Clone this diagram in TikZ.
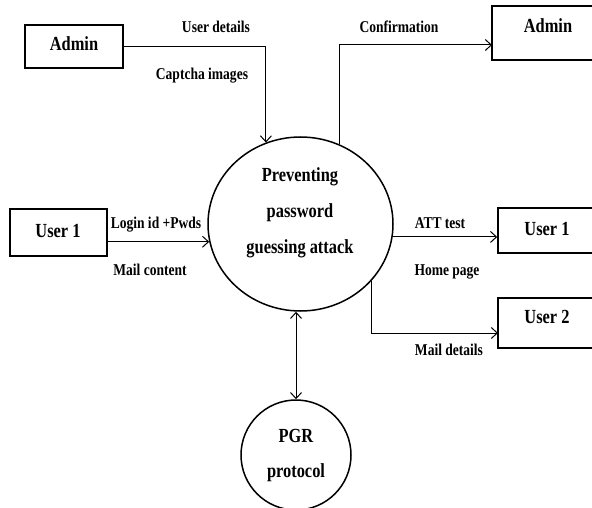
\documentclass[tikz,border=0pt]{standalone}
\usepackage{fontspec}
\setmainfont{Liberation Serif}[FakeStretch=0.82]
\usetikzlibrary{arrows.meta,shapes.geometric}
\begin{document}
\begin{tikzpicture}[x=1pt,y=-1pt,
  boxe/.style={draw,line width=1.6pt,rectangle,inner sep=0pt},
  bigt/.style={font=\fontsize{20}{24}\selectfont\bfseries,anchor=base,inner sep=0pt},
  lab/.style={font=\fontsize{16.5}{20}\selectfont\bfseries,anchor=base,inner sep=0pt},
  flow/.style={line width=1pt,-{Straight Barb[length=6pt,width=11pt]}},
  flow2/.style={line width=1pt,{Straight Barb[length=6pt,width=11pt]}-{Straight Barb[length=6pt,width=11pt]}}]
\useasboundingbox (0,0) rectangle (592,508);
\clip (0,0) rectangle (592,508);
% boxes
\node[boxe,minimum width=98pt,minimum height=43pt] (adminL) at (74,46.5) {};
\node[bigt] (adminLt) at (74,51) {Admin};
\node[boxe,minimum width=97pt,minimum height=47pt] (userL) at (58.5,232.5) {};
\node[bigt] (userLt) at (58,237) {User 1};
\node[boxe,minimum width=112pt,minimum height=54pt] (adminR) at (548,33) {};
\node[bigt] (adminRt) at (548,33) {Admin};
\node[boxe,minimum width=106pt,minimum height=45pt] (userR) at (551,230.5) {};
\node[bigt] (userRt) at (547,235) {User 1};
\node[boxe,minimum width=106pt,minimum height=50pt] (userR2) at (551,323) {};
\node[bigt] (userR2t) at (547,323) {User 2};
% process circles
\node[draw,line width=1.5pt,ellipse,minimum width=185pt,minimum height=174pt,inner sep=0pt] (main) at (300.5,224) {};
\node[bigt] (mainT1) at (300,182) {Preventing};
\node[bigt] (mainT2) at (300,218) {password};
\node[bigt] (mainT3) at (300,253) {guessing attack};
\node[draw,line width=1.5pt,circle,minimum size=110pt,inner sep=0pt] (pgr) at (296,455) {};
\node[bigt] (pgrT1) at (296,442) {PGR};
\node[bigt] (pgrT2) at (296,477) {protocol};
% connectors
\coordinate (adminRin) at (492,45);
\coordinate (userR2in) at (498,333);
\draw[flow] (adminL.east) -| (main.113);
\draw[flow] (main.64) |- (adminRin);
\draw[flow] (userL.east |- main.191) -- (main.191);
\draw[flow] (main.-8) -- (main.-8 -| userR.west);
\draw[flow] (main.-39) |- (userR2in);
\draw[flow2] (pgr.north |- main.south) -- (pgr.north);
% labels
\node[lab] (l1) at (216,33) {User details};
\node[lab] (l2) at (202,80) {Captcha images};
\node[lab] (l3) at (399,33) {Confirmation};
\node[lab] (l4) at (156,228) {Login id +Pwds};
\node[lab] (l5) at (150,275) {Mail content};
\node[lab] (l6) at (440,229) {ATT test};
\node[lab] (l7) at (447,275) {Home page};
\node[lab] (l8) at (449,355) {Mail details};
\end{tikzpicture}
\end{document}
